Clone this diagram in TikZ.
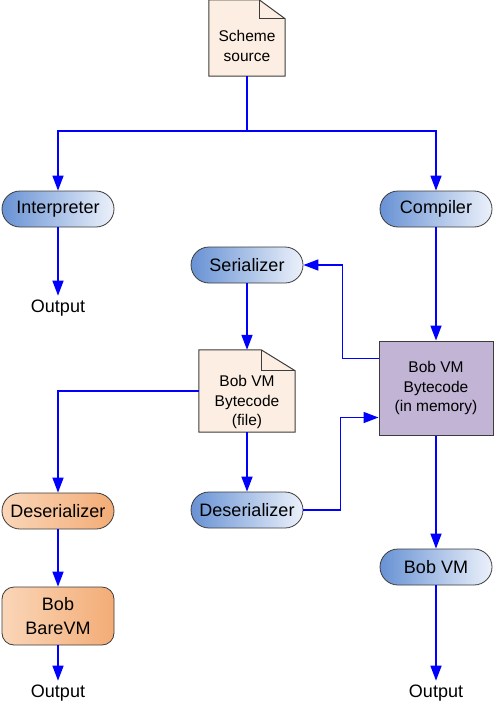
\documentclass[tikz,border=0pt]{standalone}
\usepackage{fontspec}
\setmainfont{Liberation Sans}
\usetikzlibrary{arrows.meta,backgrounds,calc}
\definecolor{flowblue}{RGB}{0,0,255}
\definecolor{edgegray}{RGB}{60,60,60}
\definecolor{blueL}{RGB}{104,146,212}
\definecolor{blueR}{RGB}{236,241,250}
\definecolor{orangeL}{RGB}{250,214,184}
\definecolor{orangeR}{RGB}{243,172,118}
\definecolor{docfill}{RGB}{252,238,226}
\definecolor{memfill}{RGB}{193,180,213}
\begin{document}
\begin{tikzpicture}[x=1pt,y=-1pt,
  link/.style={draw=flowblue, line width=1.6pt},
  flow/.style={link, -{Triangle[length=15pt,width=11pt]}},
  pill/.style={rectangle, rounded corners=18pt, draw=edgegray, line width=0.8pt,
    minimum width=112pt, minimum height=36pt, inner sep=0pt,
    font=\fontsize{18}{21}\selectfont},
  pillblue/.style={pill, left color=blueL, right color=blueR},
  pillorange/.style={pill, left color=orangeL, right color=orangeR},
  docbox/.style={rectangle, inner sep=0pt},
  doctext/.style={align=center, font=\fontsize{15.5}{19.5}\selectfont},
  docshape/.style={draw=edgegray, line width=1pt, fill=docfill},
  membox/.style={rectangle, draw=edgegray, line width=1pt, fill=memfill,
    minimum width=114pt, minimum height=94pt, align=center,
    font=\fontsize{15.5}{19.5}\selectfont},
  outtext/.style={inner sep=4pt, font=\fontsize{18}{21}\selectfont},
]
\useasboundingbox (0,0) rectangle (494,706);

% document nodes
\node[docbox, minimum width=76pt, minimum height=76pt,
  label={[doctext, yshift=-8pt]center:Scheme\\source}] (src) at (247,38) {};
\node[docbox, minimum width=96pt, minimum height=82pt,
  label={[doctext, yshift=-11pt]center:Bob VM\\Bytecode\\(file)}] (file) at (247,391) {};
\begin{scope}[on background layer]
  \foreach \d/\fw/\fh in {src/26/19, file/34/21} {
    \draw[docshape] (\d.north west) -- ($(\d.north east)+(-\fw,0)$)
      -- ($(\d.north east)+(0,\fh)$) -- (\d.south east) -- (\d.south west) -- cycle;
    \draw[draw=edgegray, line width=1pt] ($(\d.north east)+(-\fw,0)$)
      -- ($(\d.north east)+(-\fw,\fh)$) -- ($(\d.north east)+(0,\fh)$);
  }
\end{scope}

% process nodes
\node[pillblue] (interp) at (58,209) {Interpreter};
\node[pillblue] (comp) at (436,209) {Compiler};
\node[pillblue] (ser) at (247,265) {Serializer};
\node[pillblue] (des2) at (247,510) {Deserializer};
\node[pillblue] (bvm) at (436,567) {Bob VM};
\node[pillorange] (des1) at (58,511) {Deserializer};
\node[pillorange, rounded corners=12pt, minimum height=58pt, align=center,
  font=\fontsize{18}{24}\selectfont] (bare) at (58,616) {Bob\\BareVM};
\node[membox] (mem) at (436,388) {Bob VM\\Bytecode\\(in memory)};

% outputs
\node[outtext] (out1) at (58,308) {Output};
\node[outtext] (out2) at (58,693) {Output};
\node[outtext] (out3) at (436,693) {Output};

% connectors
\coordinate (split) at (247,131);
\draw[link] (src.south) -- (split);
\draw[flow] (split) -| (interp.north);
\draw[flow] (split) -| (comp.north);
\draw[flow] (interp.south) -- (out1.north);
\draw[flow] (comp.south) -- (mem.north);
\coordinate (m1) at ($(mem.north west)+(0,18)$);
\coordinate (m2) at ($(mem.south west)+(0,-18)$);
\draw[flow] (m1) -- ++(-36,0) |- (ser.east);
\draw[flow] (ser.south) -- (file.north);
\draw[flow] (file.west) -| (des1.north);
\draw[flow] (file.south) -- (des2.north);
\draw[flow] (des2.east) -- ++(37,0) |- (m2);
\draw[flow] (des1.south) -- (bare.north);
\draw[flow] (bare.south) -- (out2.north);
\draw[flow] (mem.south) -- (bvm.north);
\draw[flow] (bvm.south) -- (out3.north);
\end{tikzpicture}
\end{document}
